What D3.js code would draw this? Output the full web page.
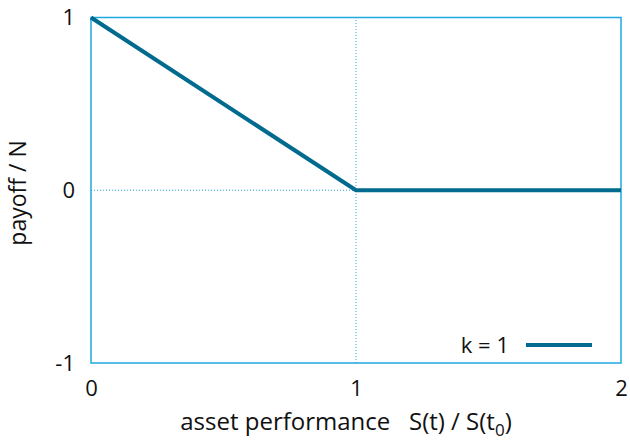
<!DOCTYPE html>
<html>
<head>
<meta charset="utf-8">
<script src="https://cdn.jsdelivr.net/npm/d3@7"></script>
<style>
  html, body { margin: 0; padding: 0; background: #fff; }
  svg { display: block; font-family: "Open Sans", "Noto Sans", sans-serif; }
</style>
</head>
<body>
<svg id="chart" width="630" height="440"></svg>
<script>
// Payoff of a put-like structure: max(k - S(t)/S(t0), 0) for k = 1
const performance = [0, 1, 2];
const payoff = [1, 0, 0];
const xTicks = [0, 1, 2];
const yTicks = [-1, 0, 1];
const seriesLabel = "k = 1";

const svg = d3.select("#chart");
const margin = { left: 91, right: 9, top: 17.5, bottom: 77 };
const W = 630, H = 440;

const x = d3.scaleLinear().domain([0, 2]).range([margin.left, W - margin.right]);
const y = d3.scaleLinear().domain([-1, 1]).range([H - margin.bottom, margin.top]);

const frameColor = "#1fa8e0";
const lineColor = "#006b8f";
const textColor = "#111";

// dotted reference lines at x = 1 and y = 0
svg.append("line")
  .attr("x1", x(1)).attr("x2", x(1))
  .attr("y1", y(-1)).attr("y2", y(1))
  .attr("stroke", frameColor).attr("stroke-width", 1)
  .attr("stroke-dasharray", "1,2");
svg.append("line")
  .attr("x1", x(0)).attr("x2", x(2))
  .attr("y1", y(0)).attr("y2", y(0))
  .attr("stroke", frameColor).attr("stroke-width", 1)
  .attr("stroke-dasharray", "1,2");

// plot frame
svg.append("rect")
  .attr("x", x(0)).attr("y", y(1))
  .attr("width", x(2) - x(0)).attr("height", y(-1) - y(1))
  .attr("fill", "none").attr("stroke", frameColor).attr("stroke-width", 1.5);

// axes (labels only, no tick marks)
const xAxis = svg.append("g")
  .attr("transform", `translate(0,${y(-1)})`)
  .call(d3.axisBottom(x).tickValues(xTicks).tickSize(0).tickPadding(17).tickFormat(d3.format("d")));
const yAxis = svg.append("g")
  .attr("transform", `translate(${x(0)},0)`)
  .call(d3.axisLeft(y).tickValues(yTicks).tickSize(0).tickPadding(16).tickFormat(d => d < 0 ? "-" + Math.abs(d) : d));
[xAxis, yAxis].forEach(g => {
  g.select(".domain").remove();
  g.selectAll("text").attr("font-size", 22).attr("fill", textColor)
    .attr("font-family", "'Open Sans', 'Noto Sans', sans-serif");
});

// payoff line
const line = d3.line().x((d, i) => x(performance[i])).y(d => y(d));
svg.append("path")
  .datum(payoff)
  .attr("d", line)
  .attr("fill", "none")
  .attr("stroke", lineColor)
  .attr("stroke-width", 4)
  .attr("stroke-linejoin", "round");

// legend
svg.append("text")
  .attr("x", 509).attr("y", 353)
  .attr("text-anchor", "end")
  .attr("font-size", 22).attr("fill", textColor)
  .text(seriesLabel);
svg.append("line")
  .attr("x1", 526).attr("x2", 592)
  .attr("y1", 345).attr("y2", 345)
  .attr("stroke", lineColor).attr("stroke-width", 4);

// axis titles
const xt = svg.append("text")
  .attr("x", 346).attr("y", 430)
  .attr("text-anchor", "middle")
  .attr("font-size", 24).attr("fill", textColor);
xt.append("tspan").text("asset performance\u00a0\u00a0\u00a0S(t) / S(t");
xt.append("tspan").attr("font-size", 17).attr("dy", 6).text("0");
xt.append("tspan").attr("dy", -6).text(")");

svg.append("text")
  .attr("transform", `translate(26,193) rotate(-90)`)
  .attr("text-anchor", "middle")
  .attr("font-size", 23).attr("fill", textColor)
  .text("payoff / N");
</script>
</body>
</html>
